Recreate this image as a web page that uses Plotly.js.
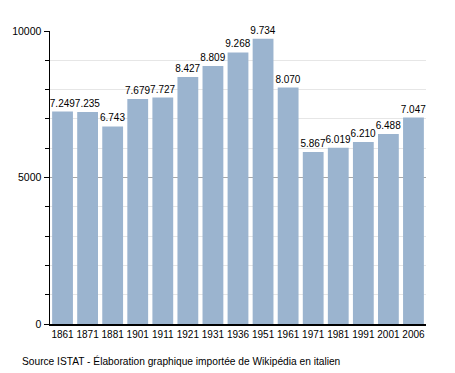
<!DOCTYPE html>
<html>
<head>
<meta charset="utf-8">
<script src="https://cdn.plot.ly/plotly-3.0.1.min.js"></script>
<style>html,body{margin:0;padding:0;background:#fff;}#chart{width:455px;height:373px;}</style>
</head>
<body>
<div id="chart"></div>
<script>
const years = ["1861","1871","1881","1901","1911","1921","1931","1936","1951","1961","1971","1981","1991","2001","2006"];
const population = [7249,7235,6743,7679,7727,8427,8809,9268,9734,8070,5867,6019,6210,6488,7047];
const caption = "Source ISTAT - Élaboration graphique importée de Wikipédia en italien";

const FONT = "Liberation Sans, Arial, sans-serif";

const trace = {
  type: "bar",
  x: years,
  y: population,
  marker: {color: "#9bb4cf", line: {width: 0}},
  texttemplate: "%{y:,.0f}",
  textposition: "outside",
  constraintext: "none",
  cliponaxis: false,
  textfont: {family: FONT, size: 10, color: "#000"},
  hoverinfo: "none"
};

const layout = {
  width: 455, height: 373,
  margin: {l: 50, r: 29, t: 31, b: 49},
  paper_bgcolor: "#fff", plot_bgcolor: "#fff",
  separators: ",.",
  showlegend: false,
  bargap: 0.17,
  font: {family: FONT, size: 10, color: "#000"},
  xaxis: {
    type: "category",
    showline: true, linecolor: "#000", linewidth: 1.5,
    ticks: "", showgrid: false, zeroline: false,
    tickangle: 0,
    tickfont: {family: FONT, size: 10, color: "#000"}
  },
  yaxis: {
    range: [0, 10000],
    tickvals: [0, 5000, 10000],
    tickformat: "d",
    showline: true, linecolor: "#000", linewidth: 1.5,
    ticks: "outside", ticklen: 5, tickcolor: "#000",
    showgrid: true, gridcolor: "#a8a8a8", gridwidth: 1,
    zeroline: false,
    tickfont: {family: FONT, size: 10.5, color: "#000"},
    minor: {dtick: 1000, ticks: "outside", ticklen: 4, tickcolor: "#000", showgrid: true, gridcolor: "#e6e6e6", gridwidth: 1}
  },
  annotations: [{
    text: caption, xref: "paper", yref: "paper",
    x: -0.08, y: -0.1, xanchor: "left", yanchor: "top",
    showarrow: false, font: {family: FONT, size: 10.2, color: "#000"}
  }]
};

Plotly.newPlot("chart", [trace], layout, {staticPlot: true, displayModeBar: false});
</script>
</body>
</html>
